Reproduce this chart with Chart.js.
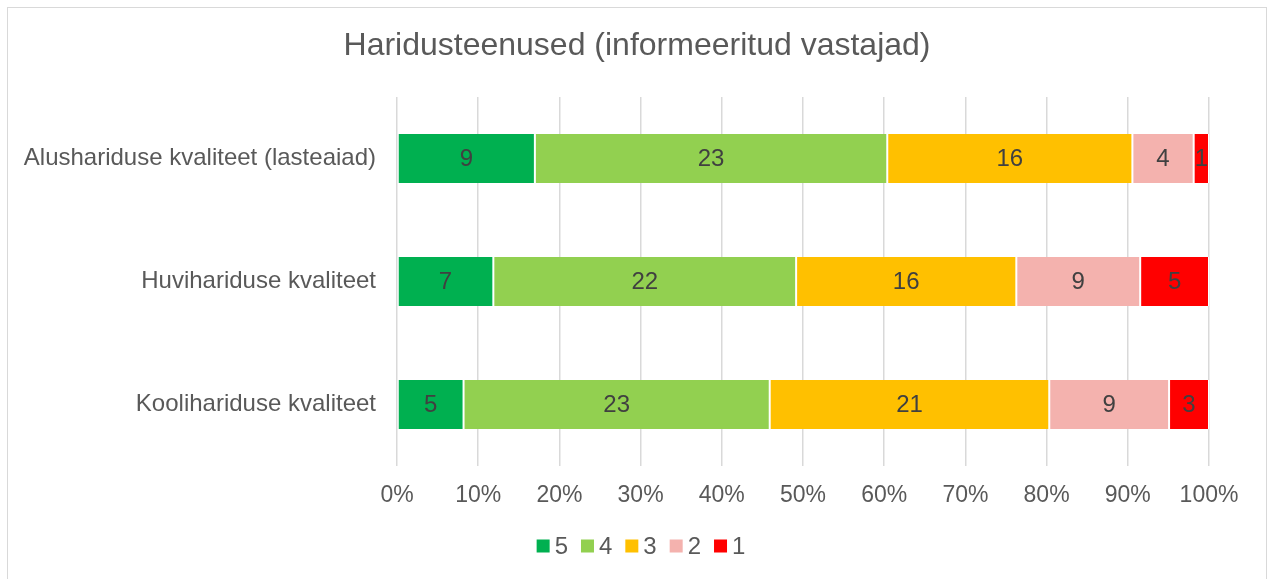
<!DOCTYPE html>
<html>
<head>
<meta charset="utf-8">
<script src="https://cdn.jsdelivr.net/npm/chart.js@4/dist/chart.umd.min.js"></script>
<style>
html,body{margin:0;padding:0;background:#fff;}
#wrap{position:relative;width:1271px;height:579px;}
#frame{position:absolute;left:7px;top:7px;width:1260px;height:600px;border:1px solid #d9d9d9;box-sizing:border-box;}
canvas{position:absolute;left:0;top:0;}
</style>
</head>
<body>
<div id="wrap">
<div id="frame"></div>
<canvas id="c" width="1271" height="579"></canvas>
</div>
<script>
const titleText = 'Haridusteenused (informeeritud vastajad)';
const categories = ['Alushariduse kvaliteet (lasteaiad)', 'Huvihariduse kvaliteet', 'Koolihariduse kvaliteet'];
const seriesNames = ['5', '4', '3', '2', '1'];
const seriesColors = ['#00B050', '#92D050', '#FFC000', '#F4B2AE', '#FF0000'];
const count5 = [9, 7, 5];
const count4 = [23, 22, 23];
const count3 = [16, 16, 21];
const count2 = [4, 9, 9];
const count1 = [1, 5, 3];
const xTicks = [0, 10, 20, 30, 40, 50, 60, 70, 80, 90, 100];

const counts = [count5, count4, count3, count2, count1];
const totals = categories.map((_, i) => counts.reduce((s, arr) => s + arr[i], 0));

const datasets = counts.map((arr, k) => ({
  label: seriesNames[k],
  data: arr.map((v, i) => v / totals[i] * 100),
  counts: arr,
  backgroundColor: seriesColors[k],
  borderColor: '#ffffff',
  borderWidth: {left: 1, right: 1, top: 0, bottom: 0},
  borderSkipped: false,
  categoryPercentage: 0.4,
  barPercentage: 1.0
}));

const FONT = '"Liberation Sans", Arial, sans-serif';

const labelPlugin = {
  id: 'valueLabels',
  afterDatasetsDraw(chart) {
    const ctx = chart.ctx;
    ctx.save();
    ctx.font = '24px ' + FONT;
    ctx.fillStyle = '#404040';
    ctx.textAlign = 'center';
    ctx.textBaseline = 'middle';
    chart.data.datasets.forEach((ds, di) => {
      const meta = chart.getDatasetMeta(di);
      meta.data.forEach((el, i) => {
        const p = el.getProps(['x', 'y', 'base'], true);
        const cx = (p.x + p.base) / 2;
        ctx.fillText(String(ds.counts[i]), cx, p.y + 1);
      });
    });
    ctx.restore();
  }
};

const titleLegendPlugin = {
  id: 'titleLegend',
  afterDraw(chart) {
    const ctx = chart.ctx;
    ctx.save();
    // title
    ctx.font = '32px ' + FONT;
    ctx.fillStyle = '#595959';
    ctx.textAlign = 'center';
    ctx.textBaseline = 'middle';
    ctx.fillText(titleText, 637, 46);
    // legend
    ctx.font = '24px ' + FONT;
    ctx.textAlign = 'left';
    const box = 13, gap = 5, itemGap = 13;
    const items = chart.data.datasets.map(ds => ({ text: ds.label, color: ds.backgroundColor, w: ctx.measureText(ds.label).width }));
    let total = 0;
    items.forEach((it, i) => { total += box + gap + it.w + (i < items.length - 1 ? itemGap : 0); });
    let x = 641 - total / 2;
    const cy = 546;
    items.forEach(it => {
      ctx.fillStyle = it.color;
      ctx.fillRect(x, cy - box / 2, box, box);
      x += box + gap;
      ctx.fillStyle = '#595959';
      ctx.fillText(it.text, x, cy + 1);
      x += it.w + itemGap;
    });
    ctx.restore();
  }
};

new Chart(document.getElementById('c'), {
  type: 'bar',
  data: { labels: categories, datasets: datasets },
  options: {
    indexAxis: 'y',
    responsive: false,
    animation: false,
    devicePixelRatio: 1,
    layout: { padding: { left: 0, right: 62, top: 97, bottom: 71 } },
    scales: {
      x: {
        stacked: true,
        min: 0, max: 100,
        afterBuildTicks(scale) { scale.ticks = xTicks.map(v => ({ value: v })); },
        afterFit(scale) { scale.height = 42; },
        ticks: {
          callback: v => v + '%',
          color: '#595959',
          font: { family: FONT, size: 23 },
          padding: 16,
          maxRotation: 0
        },
        grid: { color: '#d9d9d9', lineWidth: 1.5, drawTicks: false },
        border: { display: false }
      },
      y: {
        stacked: true,
        afterFit(scale) { scale.width = 397; },
        ticks: {
          color: '#595959',
          font: { family: FONT, size: 24 },
          padding: 21
        },
        grid: { display: false, drawTicks: false },
        border: { display: false }
      }
    },
    plugins: {
      title: { display: false },
      legend: { display: false },
      tooltip: { enabled: false }
    }
  },
  plugins: [labelPlugin, titleLegendPlugin]
});
</script>
</body>
</html>
